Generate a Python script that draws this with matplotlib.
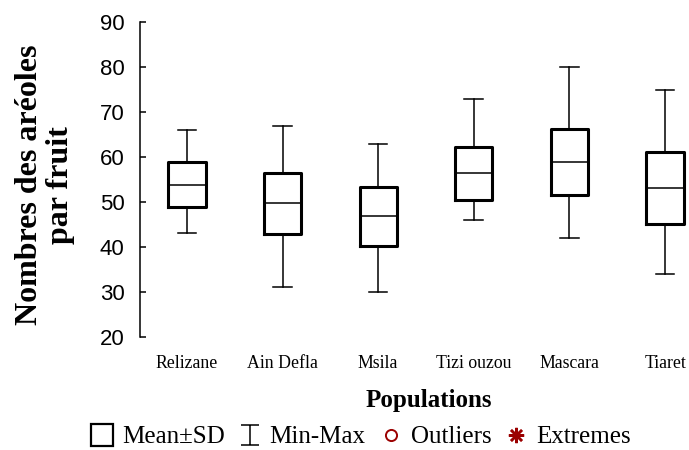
import matplotlib.pyplot as plt
from matplotlib.path import Path
from matplotlib.lines import Line2D

plt.rcParams['font.family'] = ['Liberation Serif', 'DejaVu Serif']

# data (mean, SD, min, max per population)
populations = ["Relizane", "Ain Defla", "Msila", "Tizi ouzou", "Mascara", "Tiaret"]
means = [53.8, 49.7, 46.8, 56.4, 58.9, 53.2]
sds = [5.0, 6.8, 6.6, 5.9, 7.4, 8.0]
mins = [43, 31, 30, 46, 42, 34]
maxs = [66, 67, 63, 73, 80, 75]

stats = []
for name, m, s, lo, hi in zip(populations, means, sds, mins, maxs):
    stats.append(dict(label=name, med=m, q1=m - s, q3=m + s,
                      whislo=lo, whishi=hi, fliers=[]))

fig = plt.figure(figsize=(6.89, 4.5), dpi=100)
ax = fig.add_axes([140 / 689, 1 - 336.7 / 450, 549 / 689, (336.7 - 22.3) / 450])

ax.bxp(stats, positions=range(len(populations)), widths=0.39, showfliers=False,
       boxprops=dict(color='black', linewidth=2.2),
       medianprops=dict(color='black', linewidth=1.1),
       whiskerprops=dict(color='black', linewidth=1.1),
       capprops=dict(color='black', linewidth=1.1))

ax.set_xlim(-0.49, 5.25)
ax.set_ylim(20, 90)
ax.set_yticks(range(20, 91, 10))
for side in ['top', 'right', 'bottom']:
    ax.spines[side].set_visible(False)
ax.spines['left'].set_linewidth(1.1)
ax.tick_params(axis='y', direction='in', length=4, width=1.1, pad=11, labelsize=16)
for lab in ax.get_yticklabels():
    lab.set_fontfamily(['Liberation Sans', 'DejaVu Sans'])
ax.tick_params(axis='x', length=0, pad=13, labelsize=12.8)
ax.set_xticks(range(len(populations)))
ax.set_xticklabels(populations)

fig.text(45 / 689, 1 - 185 / 450, "Nombres des aréoles\npar fruit", rotation=90,
         ha='center', va='center', fontsize=23, fontweight='bold', multialignment='center',
         linespacing=1.05)
fig.text(429 / 689, 1 - 401 / 450, "Populations", ha='center', va='center',
         fontsize=18, fontweight='bold')

# legend symbols
minmax_marker = Path([(-0.9, 1), (0.9, 1), (0, 1), (0, -1), (-0.9, -1), (0.9, -1)],
                     [Path.MOVETO, Path.LINETO, Path.MOVETO, Path.LINETO, Path.MOVETO, Path.LINETO])
dark_red = '#9b0000'
handles = [
    Line2D([], [], linestyle='none', marker='s', markersize=16, markerfacecolor='none',
           markeredgecolor='black', markeredgewidth=1.6),
    Line2D([], [], linestyle='none', marker=minmax_marker, markersize=15, markerfacecolor='none',
           markeredgecolor='black', markeredgewidth=1.1),
    Line2D([], [], linestyle='none', marker='o', markersize=8, markerfacecolor='none',
           markeredgecolor=dark_red, markeredgewidth=1.4),
    Line2D([], [], linestyle='none', marker=(8, 2, 0), markersize=11,
           markeredgecolor=dark_red, markeredgewidth=1.8),
]
labels = ["Mean±SD", "Min-Max", "Outliers", "Extremes"]
fig.legend(handles, labels, loc='center', bbox_to_anchor=(360 / 689, 1 - 437 / 450), ncol=4,
           frameon=False, fontsize=18, handlelength=1.0, handletextpad=0.3,
           columnspacing=0.5, borderpad=0)

fig.savefig('out.png', dpi=100)
